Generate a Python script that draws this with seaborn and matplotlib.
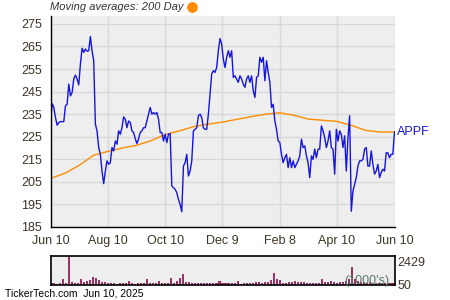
import numpy as np
import pandas as pd
import matplotlib
matplotlib.use('Agg')
import matplotlib.pyplot as plt
import seaborn as sns

start, end = '2024-06-10', '2025-06-10'
ticker = 'APPF'

price = [
    230.6, 239.7, 238.0, 233.5, 230.1, 231.3, 231.7, 231.7, 231.7, 238.7,
    239.4, 248.3, 243.1, 244.6, 250.6, 252.3, 250.6, 248.0, 257.2, 264.2,
    262.4, 263.9, 262.9, 263.1, 269.4, 263.1, 258.7, 230.6, 227.6, 220.2,
    217.2, 209.8, 204.2, 209.8, 214.3, 212.8, 213.5, 220.2, 218.7, 223.1,
    221.7, 227.6, 226.1, 229.0, 233.8, 232.7, 229.0, 232.0, 231.3, 227.6,
    226.9, 224.1, 222.0, 224.1, 226.9, 227.6, 229.0, 229.0, 232.0, 235.0,
    238.0, 235.0, 235.7, 235.0, 235.7, 232.8, 226.9, 226.9, 223.1, 226.1,
    222.4, 226.1,
    226.4, 203.2, 202.4, 201.7, 200.2, 197.2, 195.0, 191.8, 212.0, 213.5,
    217.2, 207.6, 209.8, 214.3, 227.6, 228.3, 229.0, 234.3, 235.0, 233.5,
    229.0, 228.3, 228.3, 235.0, 243.9, 252.8, 254.3, 253.5, 255.7, 263.1,
    268.5, 266.1, 259.4, 255.7, 260.2, 263.1, 260.2, 263.1, 251.3, 252.0,
    250.6, 249.1, 252.0, 250.6, 248.3, 246.9, 250.6, 252.0, 249.1, 252.0,
    245.4, 242.4, 251.3, 252.0, 260.2, 258.0, 260.2, 249.8, 258.7, 253.5,
    249.1, 238.0, 239.4, 232.0, 228.3, 223.1,
    222.4, 217.2, 213.5, 215.7, 217.2, 211.3, 215.7, 211.3, 214.3, 211.3,
    212.8, 214.3, 216.5, 223.9, 220.2, 221.0, 216.5, 213.5, 206.9, 216.5,
    215.0, 219.5, 215.7, 219.5, 219.5, 229.8, 227.6, 224.6, 220.2, 223.1,
    227.6, 220.2, 219.5, 208.4, 228.3, 223.1, 227.6, 226.1, 220.2, 225.4,
    209.8, 224.6, 234.3, 192.0, 200.9, 203.9, 206.9, 212.0, 214.3, 214.3,
    215.0, 219.5, 220.2, 212.0, 212.0, 218.7, 212.8, 208.4, 209.8, 212.8,
    206.9, 209.1, 210.6, 209.8, 217.9, 217.9, 215.7, 217.2, 217.2, 227.2,
]

ma200 = [206.5, 208.8, 212.3, 216.8, 218.5, 220.0, 221.2, 223.2, 226.0, 227.6,
         229.5, 230.6, 231.5, 232.7, 233.9, 235.0, 235.6, 234.5, 232.8, 232.3,
         231.8, 230.0, 227.8, 227.1, 227.1]

volume = [150, 120, 100, 200, 580, 150, 3200, 250, 120, 150,
          580, 250, 350, 450, 800, 700, 450, 300, 250, 200,
          150, 200, 100, 150, 120, 200, 380, 150, 100, 120,
          150, 120, 580, 150, 120, 200, 380, 150, 200, 150,
          720, 200, 350, 650, 1100, 300, 250, 200, 180, 150,
          150, 120, 150, 180, 120, 150, 420, 200, 150, 120,
          150, 180, 420, 100, 120, 150, 120, 200, 250, 250,
          180, 250, 280, 450, 1250, 600, 500, 150, 200, 280,
          250, 350, 280, 250, 300, 200, 150, 180, 200, 150,
          600, 280, 250, 350, 300, 150, 250, 300, 350, 550,
          1900, 600, 400, 300, 250, 200, 250, 200, 180, 200,
          150, 200, 150, 120, 150]

tick_dates = ['2024-06-10', '2024-08-10', '2024-10-10', '2024-12-09',
              '2025-02-08', '2025-04-10', '2025-06-10']
tick_labels = ['Jun 10', 'Aug 10', 'Oct 10', 'Dec 9', 'Feb 8', 'Apr 10', 'Jun 10']
minor_dates = ['2024-07-10', '2024-09-09', '2024-11-09', '2025-01-08',
               '2025-03-10', '2025-05-10']
y_ticks = list(range(185, 276, 10))
y_minor = list(range(190, 276, 10))
vol_ticks = [50, 2429]

sns.set_style('white')
plt.rcParams['font.family'] = ['Liberation Sans', 'DejaVu Sans']

LBL = '#3d3425'
BLUE = '#1515e0'
ORANGE = '#ff8c00'

fig = plt.figure(figsize=(4.5, 3), dpi=100)
W, H = 450, 300
ax = fig.add_axes([50.5 / W, (H - 227) / H, 344 / W, 211 / H])
ax.set_facecolor('#eeeeee')

df = pd.DataFrame({'date': pd.date_range(start, end, periods=len(price)), 'price': price})
ma_df = pd.DataFrame({'date': pd.date_range(start, end, periods=len(ma200)), 'ma': ma200})
sns.lineplot(data=ma_df, x='date', y='ma', color=ORANGE, lw=1.0, ax=ax)
sns.lineplot(data=df, x='date', y='price', color=BLUE, lw=1.0, ax=ax)

ax.set_xlim(pd.Timestamp(start), pd.Timestamp(end))
ax.set_ylim(185, 278.5)
ax.set_xlabel('')
ax.set_ylabel('')
ax.set_yticks(y_ticks)
ax.set_yticklabels([str(v) for v in y_ticks])
ax.set_yticks(y_minor, minor=True)
ax.set_xticks(pd.to_datetime(tick_dates))
ax.set_xticklabels(tick_labels)
ax.set_xticks(pd.to_datetime(minor_dates), minor=True)
ax.grid(True, which='major', color='#d9d9d9', lw=1)
ax.set_axisbelow(True)
ax.tick_params(which='both', direction='in', length=3, width=1, color='black')
ax.tick_params(axis='both', which='major', labelsize=9, labelcolor=LBL)
ax.tick_params(axis='y', pad=6)
ax.tick_params(axis='x', pad=6)
for s in ['top', 'right']:
    ax.spines[s].set_visible(False)
for s in ['left', 'bottom']:
    ax.spines[s].set_color('black')
    ax.spines[s].set_linewidth(1)

ax.annotate(ticker, xy=(pd.Timestamp(end), price[-1]), xytext=(2, 0),
            textcoords='offset points', color=BLUE, fontsize=9, va='center',
            ha='left', annotation_clip=False)

# volume panel
ax2 = fig.add_axes([50.5 / W, (H - 284.5) / H, 344 / W, 28.2 / H])
ax2.set_facecolor('#eeeeee')
vdates = pd.date_range(start, end, periods=len(volume))
ax2.bar(vdates, volume, width=2.2, color='#993366', linewidth=0)
ax2.set_xlim(pd.Timestamp(start), pd.Timestamp(end))
ax2.set_ylim(0, 3000)
ax2.set_xticks([])
ax2.yaxis.tick_right()
ax2.set_yticks(vol_ticks)
ax2.set_yticklabels([str(v) for v in vol_ticks])
ax2.tick_params(axis='y', length=0, labelsize=9, labelcolor=LBL, pad=2)
for s in ax2.spines.values():
    s.set_color('black')
    s.set_linewidth(1.2)
ax2.text(0.985, 0.12, "(1000's)", transform=ax2.transAxes, ha='right', va='center',
         fontsize=9, color='#5b7b6b')

fig.text(50 / W, 1 - 7.5 / H, 'Moving averages: 200 Day', style='italic',
         fontsize=8, color='#333333', va='center', ha='left')
dot = plt.Line2D([191.7 / W], [1 - 7.3 / H], marker='o', ms=6.7, color=ORANGE,
                 transform=fig.transFigure)
fig.add_artist(dot)
fig.text(5 / W, 1 - 294 / H, 'TickerTech.com  Jun 10, 2025', fontsize=7.5,
         color='black', va='center', ha='left')

fig.savefig('out.png', dpi=100)
